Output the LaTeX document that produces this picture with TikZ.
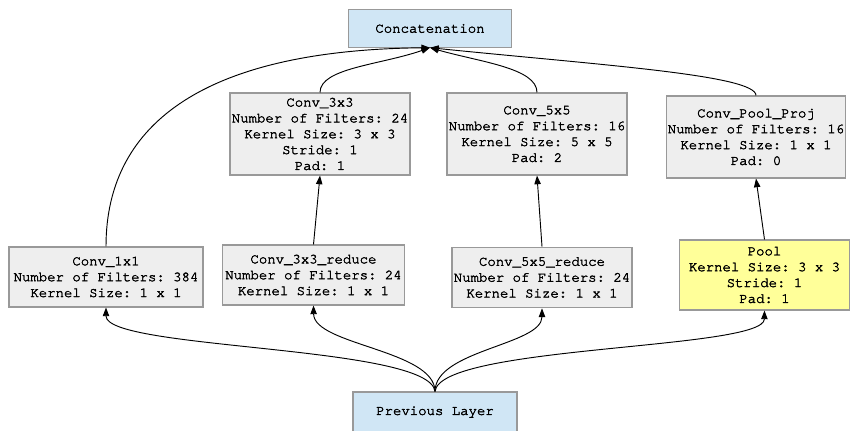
\documentclass[tikz,border=0pt]{standalone}
\usepackage{fontspec}
\setmonofont{TeX Gyre Cursor}[FakeBold=2.4]
\usetikzlibrary{arrows.meta}
\definecolor{boxgray}{HTML}{EEEEEE}
\definecolor{boxline}{HTML}{999999}
\definecolor{boxblue}{HTML}{D0E6F5}
\definecolor{boxyellow}{HTML}{FFFF99}
\frenchspacing
\begin{document}
\begin{tikzpicture}[x=0.75pt, y=-0.75pt,
  layer/.style={draw=boxline, fill=boxgray, line width=0.8pt, align=center, inner sep=1pt,
    font=\ttfamily\fontsize{10.5}{11.9}\selectfont},
  io/.style={layer, fill=boxblue},
  pool/.style={layer, fill=boxyellow},
  edge/.style={line width=0.7pt, -{Triangle[length=6.5pt,width=4.8pt]}}]
\useasboundingbox (0,0) rectangle (852,430);
\node[io, minimum width=122pt, minimum height=28pt] (concat) at (430,28.5){Concatenation};
\node[io, minimum width=123pt, minimum height=30pt] (prev) at (435,412){Previous Layer};
\node[layer, minimum width=145.5pt, minimum height=45pt] (conv1) at (106,277){Conv\_1x1\\Number of Filters: 384\\Kernel Size: 1 x 1};
\node[layer, minimum width=136pt, minimum height=45pt] (red3) at (313.5,275){Conv\_3x3\_reduce\\Number of Filters: 24\\Kernel Size: 1 x 1};
\node[layer, minimum width=135pt, minimum height=45.5pt] (red5) at (542,277.5){Conv\_5x5\_reduce\\Number of Filters: 24\\Kernel Size: 1 x 1};
\node[pool, minimum width=128pt, minimum height=52.5pt] (pool) at (764.5,275){Pool\\Kernel Size: 3 x 3\\Stride: 1\\Pad: 1};
\node[layer, minimum width=135pt, minimum height=61.5pt] (conv3) at (320,134){Conv\_3x3\\Number of Filters: 24\\Kernel Size: 3 x 3\\Stride: 1\\Pad: 1};
\node[layer, minimum width=135pt, minimum height=61.5pt] (conv5) at (537,134){Conv\_5x5\\Number of Filters: 16\\Kernel Size: 5 x 5\\Pad: 2};
\node[layer, minimum width=133.5pt, minimum height=61.5pt] (proj) at (756,137){Conv\_Pool\_Proj\\Number of Filters: 16\\Kernel Size: 1 x 1\\Pad: 0};
% previous layer to the first row
\draw[edge] (prev.north) .. controls (430,345) and (106,350) .. (conv1.south);
\draw[edge] (prev.north) .. controls (435,350) and (314,345) .. (red3.south);
\draw[edge] (prev.north) .. controls (435,350) and (542,345) .. (red5.south);
\draw[edge] (prev.north) .. controls (440,345) and (764,350) .. (pool.south);
% reduce to conv
\draw[edge] (red3.north) -- (conv3.south);
\draw[edge] (red5.north) -- (conv5.south);
\draw[edge] (pool.north) -- (proj.south);
% everything into the concatenation
\draw[edge] (conv1.north) .. controls (106,120) and (210,50) .. (concat.south);
\draw[edge] (conv3.north) .. controls (320,68) and (380,65) .. (concat.south);
\draw[edge] (conv5.north) .. controls (537,68) and (480,62) .. (concat.south);
\draw[edge] (proj.north) .. controls (756,75) and (600,65) .. (concat.south);
\end{tikzpicture}
\end{document}
